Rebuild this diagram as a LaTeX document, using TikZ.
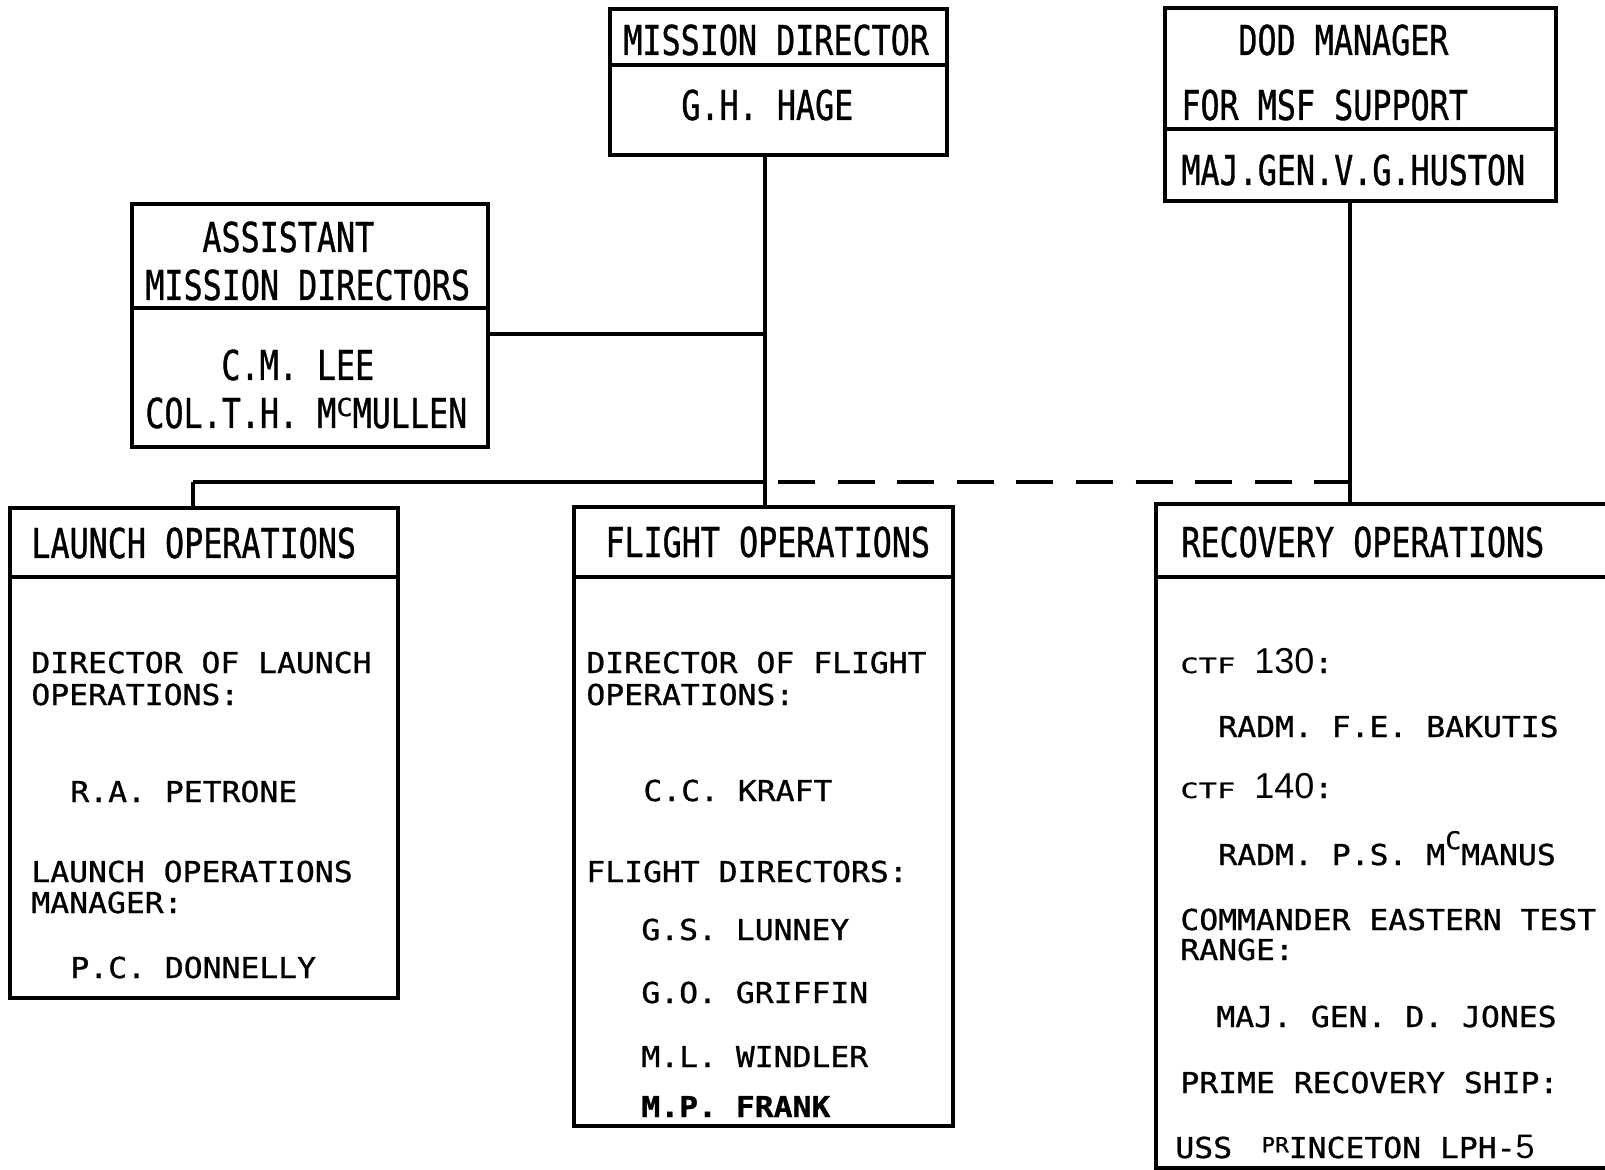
\documentclass[tikz,border=0pt]{standalone}
\usepackage{fontspec}
\usepackage{graphicx}
\newfontfamily\hdfont[FakeStretch=0.77,FakeBold=0.8]{DejaVu Sans Mono}
\newfontfamily\bdfont[FakeStretch=1.09,FakeBold=0.9]{DejaVu Sans Mono}
\newfontfamily\ctffont[FakeStretch=1.45,FakeBold=0.9]{DejaVu Sans Mono}
\newfontfamily\numfont{Liberation Sans}
\newcommand\hdsupc{\raisebox{0.29em}{\scalebox{0.85}[0.6]{C}}}
\newcommand\bdsupc{\raisebox{0.55em}{\scalebox{0.85}{C}}}
\newcommand\smallpr{\makebox[2\fontcharwd\font`P][r]{\raisebox{0.2em}{\scalebox{0.72}{PR}}}}
\newcommand\ctfno[1]{{\ctffont\fontsize{10.5pt}{12pt}\selectfont CTF} {\numfont\fontsize{18pt}{20pt}\selectfont #1}:}
\begin{document}
\begin{tikzpicture}[x=0.5pt,y=-0.5pt,
  box/.style={draw, line width=1.6pt, inner sep=0pt, outer sep=0pt, anchor=north west},
  hd/.style={font=\hdfont\fontsize{20.6pt}{24pt}\selectfont, anchor=base west, inner sep=0pt},
  bd/.style={font=\bdfont\fontsize{14.4pt}{17pt}\selectfont, anchor=base west, inner sep=0pt},
  link/.style={line width=1.6pt},
  dlink/.style={line width=1.6pt, dash pattern=on 18.5pt off 11.3pt, dash phase=23.3pt}]
\useasboundingbox (0,0) rectangle (1605,1170);

% boxes
\node[box, minimum width=168.5pt, minimum height=28pt]   (md1) at (610,9) {};
\node[box, minimum width=168.5pt, minimum height=45pt]   (md2) at (610,65) {};
\node[box, minimum width=195.5pt, minimum height=60.5pt] (dd1) at (1165,8) {};
\node[box, minimum width=195.5pt, minimum height=36pt]   (dd2) at (1165,129) {};
\node[box, minimum width=178pt, minimum height=52pt]     (as1) at (132,204) {};
\node[box, minimum width=178pt, minimum height=69.5pt]   (as2) at (132,308) {};
\node[box, minimum width=194pt, minimum height=34.5pt]   (la1) at (10,508) {};
\node[box, minimum width=194pt, minimum height=210.5pt]  (la2) at (10,577) {};
\node[box, minimum width=189.5pt, minimum height=35pt]   (fl1) at (574,507) {};
\node[box, minimum width=189.5pt, minimum height=274.5pt] (fl2) at (574,577) {};
\node[box, minimum width=230pt, minimum height=36.5pt]   (re1) at (1156,504) {};
\node[box, minimum width=230pt, minimum height=295.5pt]  (re2) at (1156,577) {};

% connectors
\coordinate (mj) at (765,334);
\coordinate (bus) at (765,482);
\coordinate (lj) at (193,482);
\coordinate (dj) at (1350,482);
\draw[link] (md2.south -| bus) -- (bus |- fl1.north);
\draw[link] (as2.east |- mj) -- (mj);
\draw[link] (lj) -- (bus);
\draw[link] (lj) -- (lj |- la1.north);
\draw[link] (dd2.south -| dj) -- (dj |- re1.north);
\draw[dlink] (bus) -- (dj);

% header texts
\node[hd] (t1) at (623,55) {MISSION DIRECTOR};
\node[hd] (t2) at (681,120) {G.H. HAGE};
\node[hd] (t3) at (1238,55) {DOD MANAGER};
\node[hd] (t4) at (1181,120) {FOR MSF SUPPORT};
\node[hd] (t5) at (1181,185) {MAJ.GEN.V.G.HUSTON};
\node[hd] (t6) at (202,252) {ASSISTANT};
\node[hd] (t7) at (145,300) {MISSION DIRECTORS};
\node[hd] (t8) at (221,380) {C.M. LEE};
\node[hd] (t9) at (145,428) {COL.T.H. M\hdsupc MULLEN};
\node[hd] (t10) at (31,558) {LAUNCH OPERATIONS};
\node[hd] (t11) at (605,557) {FLIGHT OPERATIONS};
\node[hd] (t12) at (1181,557) {RECOVERY OPERATIONS};

% launch body
\node[bd] (l1) at (31,673) {DIRECTOR OF LAUNCH};
\node[bd] (l2) at (31,705) {OPERATIONS:};
\node[bd] (l3) at (70,802) {R.A. PETRONE};
\node[bd] (l4) at (31,882) {LAUNCH OPERATIONS};
\node[bd] (l5) at (31,913) {MANAGER:};
\node[bd] (l6) at (70,978) {P.C. DONNELLY};

% flight body
\node[bd] (f1) at (586,673) {DIRECTOR OF FLIGHT};
\node[bd] (f2) at (586,705) {OPERATIONS:};
\node[bd] (f3) at (643,801) {C.C. KRAFT};
\node[bd] (f4) at (586,882) {FLIGHT DIRECTORS:};
\node[bd] (f5) at (641,940) {G.S. LUNNEY};
\node[bd] (f6) at (641,1003) {G.O. GRIFFIN};
\node[bd] (f7) at (641,1067) {M.L. WINDLER};
\node[bd] (f8) at (641,1117) {\bfseries M.P. FRANK};

% recovery body
\node[bd] (r1) at (1180,673) {\ctfno{130}};
\node[bd] (r2) at (1218,737) {RADM. F.E. BAKUTIS};
\node[bd] (r3) at (1180,798) {\ctfno{140}};
\node[bd] (r4) at (1218,865) {RADM. P.S. M\bdsupc MANUS};
\node[bd] (r5) at (1180,930) {COMMANDER EASTERN TEST};
\node[bd] (r6) at (1180,960) {RANGE:};
\node[bd] (r7) at (1216,1027) {MAJ. GEN. D. JONES};
\node[bd] (r8) at (1180,1093) {PRIME RECOVERY SHIP:};
\node[bd] (r9) at (1175,1158) {USS \smallpr INCETON LPH-{\numfont\fontsize{17pt}{19pt}\selectfont 5}};
\end{tikzpicture}
\end{document}
